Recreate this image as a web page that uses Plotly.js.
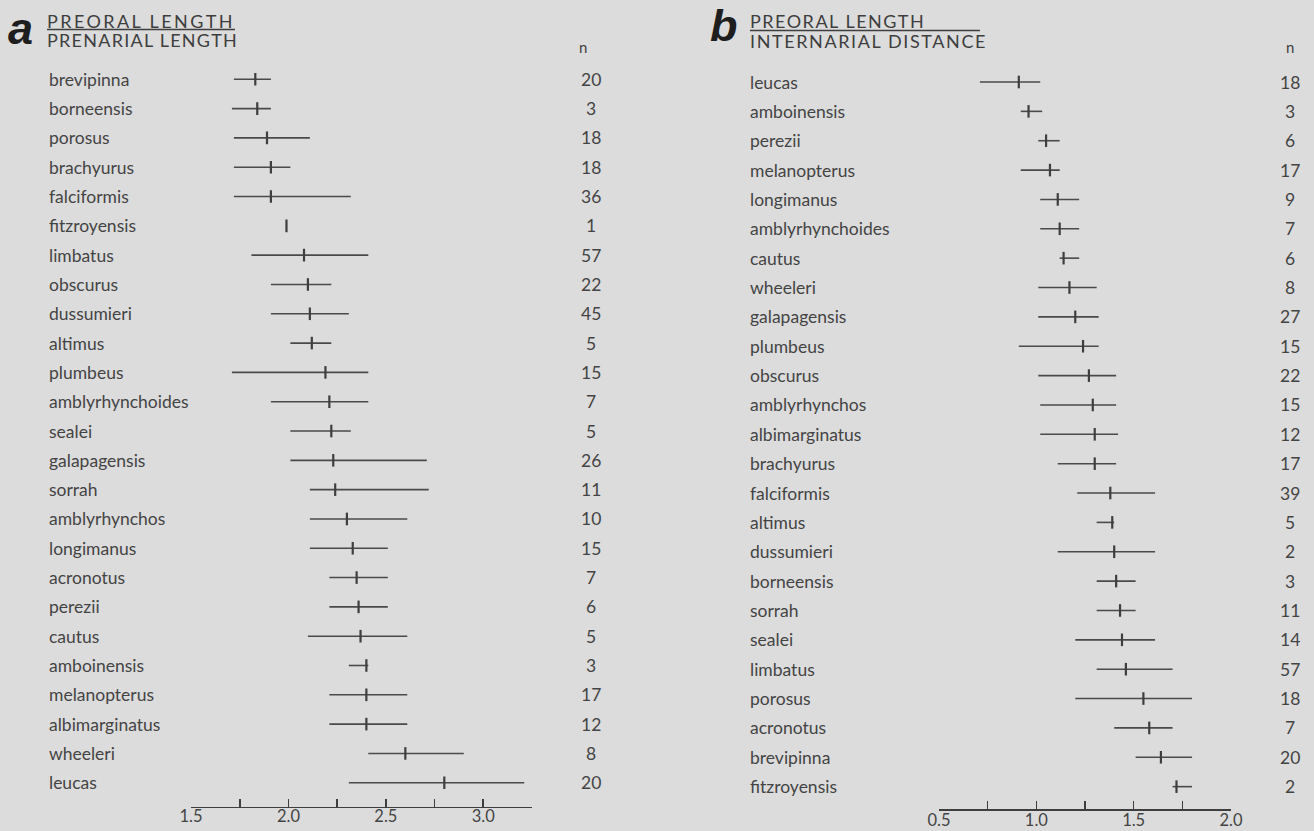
<!DOCTYPE html>
<html>
<head>
<meta charset="utf-8">
<script src="https://cdn.plot.ly/plotly-3.0.1.min.js"></script>
<style>
  html, body { margin: 0; padding: 0; background: #dcdcdc; }
  #chart { width: 1314px; height: 831px; }
</style>
</head>
<body>
<div id="chart"></div>
<script>
// ---------- Panel a: preoral length / prenarial length ----------
const speciesA = ['brevipinna','borneensis','porosus','brachyurus','falciformis','fitzroyensis','limbatus','obscurus','dussumieri','altimus','plumbeus','amblyrhynchoides','sealei','galapagensis','sorrah','amblyrhynchos','longimanus','acronotus','perezii','cautus','amboinensis','melanopterus','albimarginatus','wheeleri','leucas'];
const nA    = [20,3,18,18,36,1,57,22,45,5,15,7,5,26,11,10,15,7,6,5,3,17,12,8,20];
const meanA = [1.83,1.84,1.89,1.91,1.91,1.99,2.08,2.10,2.11,2.12,2.19,2.21,2.22,2.23,2.24,2.30,2.33,2.35,2.36,2.37,2.40,2.40,2.40,2.60,2.80];
const lowA  = [1.72,1.71,1.72,1.72,1.72,1.99,1.81,1.91,1.91,2.01,1.71,1.91,2.01,2.01,2.11,2.11,2.11,2.21,2.21,2.10,2.31,2.21,2.21,2.41,2.31];
const highA = [1.91,1.91,2.11,2.01,2.32,1.99,2.41,2.22,2.31,2.22,2.41,2.41,2.32,2.71,2.72,2.61,2.51,2.51,2.51,2.61,2.41,2.61,2.61,2.90,3.21];
const ticksA = [1.5,1.75,2.0,2.25,2.5,2.75,3.0,3.25];
const tickTextA = ['1.5','','2.0','','2.5','','3.0',''];

// ---------- Panel b: preoral length / internarial distance ----------
const speciesB = ['leucas','amboinensis','perezii','melanopterus','longimanus','amblyrhynchoides','cautus','wheeleri','galapagensis','plumbeus','obscurus','amblyrhynchos','albimarginatus','brachyurus','falciformis','altimus','dussumieri','borneensis','sorrah','sealei','limbatus','porosus','acronotus','brevipinna','fitzroyensis'];
const nB    = [18,3,6,17,9,7,6,8,27,15,22,15,12,17,39,5,2,3,11,14,57,18,7,20,2];
const meanB = [0.91,0.96,1.05,1.07,1.11,1.12,1.14,1.17,1.20,1.24,1.27,1.29,1.30,1.30,1.38,1.39,1.40,1.41,1.43,1.44,1.46,1.55,1.58,1.64,1.72];
const lowB  = [0.71,0.92,1.01,0.92,1.02,1.02,1.12,1.01,1.01,0.91,1.01,1.02,1.02,1.11,1.21,1.31,1.11,1.31,1.31,1.20,1.31,1.20,1.40,1.51,1.70];
const highB = [1.02,1.03,1.12,1.12,1.22,1.22,1.22,1.31,1.32,1.32,1.41,1.41,1.42,1.41,1.61,1.40,1.61,1.51,1.51,1.61,1.70,1.80,1.70,1.80,1.80];
const ticksB = [0.5,0.75,1.0,1.25,1.5,1.75,2.0];
const tickTextB = ['0.5','','1.0','','1.5','','2.0'];

const headerA = ['PREORAL LENGTH','PRENARIAL LENGTH'];
const headerB = ['PREORAL LENGTH','INTERNARIAL DISTANCE'];

const INK = '#3e3e3e';
const LABEL_FONT = {family: 'Lato, "Open Sans", sans-serif', size: 17.5, color: '#444444'};

function panelTrace(mean, lo, hi, xa, ya) {
  const idx = mean.map((_, i) => i);
  return {
    type: 'scatter', mode: 'markers', xaxis: xa, yaxis: ya,
    x: mean, y: idx,
    marker: {symbol: 'line-ns', size: 9, color: INK, line: {color: INK, width: 2.2}},
    error_x: {type: 'data', symmetric: false,
      array: hi.map((h, i) => h - mean[i]),
      arrayminus: lo.map((l, i) => mean[i] - l),
      width: 0, thickness: 1.6, color: '#4a4a4a'},
    hoverinfo: 'skip', showlegend: false
  };
}

const W = 1314, H = 831;
const px = v => v / W;
const py = v => (H - v) / H;

const annotations = [];
function addRows(species, n, yref, xLabel, xN) {
  species.forEach((s, i) => {
    annotations.push({text: s, xref: 'paper', x: px(xLabel), xanchor: 'left',
      yref: yref, y: i, yanchor: 'middle', showarrow: false, font: LABEL_FONT});
    annotations.push({text: String(n[i]), xref: 'paper', x: px(xN), xanchor: 'center',
      yref: yref, y: i, yanchor: 'middle', showarrow: false, font: LABEL_FONT});
  });
}
addRows(speciesA, nA, 'y', 47, 591);
addRows(speciesB, nB, 'y2', 748, 1290);

// column headers "n"
annotations.push({text: 'n', xref: 'paper', yref: 'paper', x: px(583), y: py(47), xanchor: 'center', yanchor: 'middle', showarrow: false, font: {family: 'Lato, sans-serif', size: 15, color: INK}});
annotations.push({text: 'n', xref: 'paper', yref: 'paper', x: px(1290), y: py(47), xanchor: 'center', yanchor: 'middle', showarrow: false, font: {family: 'Lato, sans-serif', size: 15, color: INK}});

// panel letters
const letterFont = {family: '"Liberation Sans", Arial, sans-serif', size: 45, color: '#1e1e1e'};
annotations.push({text: '<b><i>a</i></b>', xref: 'paper', yref: 'paper', x: px(6), y: py(28.5), xanchor: 'left', yanchor: 'middle', showarrow: false, font: letterFont});
annotations.push({text: '<b><i>b</i></b>', xref: 'paper', yref: 'paper', x: px(708), y: py(25.5), xanchor: 'left', yanchor: 'middle', showarrow: false, font: letterFont});

// ratio headers
const hdrFont = {family: 'Lato, sans-serif', size: 18, color: INK};
const hdrList = [];
function addHeader(text, x, y, spacing) {
  annotations.push({text: text, xref: 'paper', yref: 'paper', x: px(x), y: py(y), xanchor: 'left', yanchor: 'middle', showarrow: false, font: hdrFont});
  hdrList.push({text: text, x: x, y: y, spacing: spacing});
}
addHeader(headerA[0], 47, 21, 2.4);
addHeader(headerA[1], 47, 39.5, 1.25);
addHeader(headerB[0], 750, 21, 1.5);
addHeader(headerB[1], 750, 40.5, 1.6);

const shapes = [
  {type: 'line', xref: 'paper', yref: 'paper', x0: px(47), x1: px(235), y0: py(29.5), y1: py(29.5), line: {color: INK, width: 1.3}},
  {type: 'line', xref: 'paper', yref: 'paper', x0: px(750), x1: px(980), y0: py(30.5), y1: py(30.5), line: {color: INK, width: 1.3}}
];

const axisCommon = {
  showline: true, linecolor: INK, linewidth: 1.6,
  ticks: 'inside', ticklen: 8, tickwidth: 1.6, tickcolor: INK,
  showgrid: false, zeroline: false, tickmode: 'array',
  tickfont: {family: 'Lato, sans-serif', size: 16.5, color: '#444444'},
  fixedrange: true
};

const layout = {
  width: W, height: H,
  margin: {l: 0, r: 0, t: 0, b: 0},
  paper_bgcolor: '#dcdcdc', plot_bgcolor: 'rgba(0,0,0,0)',
  showlegend: false,
  xaxis: Object.assign({}, axisCommon, {domain: [px(191), px(532)], range: [1.5, 3.25], anchor: 'y', tickvals: ticksA, ticktext: tickTextA, ticklabelstandoff: -6}),
  xaxis2: Object.assign({}, axisCommon, {domain: [px(939), px(1231)], range: [0.5, 2.0], anchor: 'y2', tickvals: ticksB, ticktext: tickTextB, ticklabelstandoff: -4}),
  yaxis: {domain: [py(806.7), py(50)], range: [(806.7 - 79.3) / 29.31, (50 - 79.3) / 29.31], visible: false, anchor: 'x', fixedrange: true},
  yaxis2: {domain: [py(809), py(50)], range: [(809 - 82) / 29.36, (50 - 82) / 29.36], visible: false, anchor: 'x2', fixedrange: true},
  annotations: annotations,
  shapes: shapes
};

Plotly.newPlot('chart', [
  panelTrace(meanA, lowA, highA, 'x', 'y'),
  panelTrace(meanB, lowB, highB, 'x2', 'y2')
], layout, {displayModeBar: false, staticPlot: true}).then(function (gd) {
  // widen the letter spacing of the ratio headers, as in the printed figure,
  // then shift each so that its left edge stays where the header starts
  const texts = Array.from(gd.querySelectorAll('.annotation-text'));
  hdrList.forEach(function (h) {
    let best = null, bestD = 1e9;
    texts.forEach(function (t) {
      if (t.textContent !== h.text) return;
      const b = t.getBoundingClientRect();
      const d = Math.abs(b.left - h.x) + Math.abs((b.top + b.bottom) / 2 - h.y);
      if (d < bestD) { bestD = d; best = t; }
    });
    if (!best) return;
    best.style.letterSpacing = h.spacing + 'px';
    const nb = best.getBoundingClientRect();
    best.setAttribute('transform', 'translate(' + (h.x - nb.left) + ',0)');
  });
});
</script>
</body>
</html>
